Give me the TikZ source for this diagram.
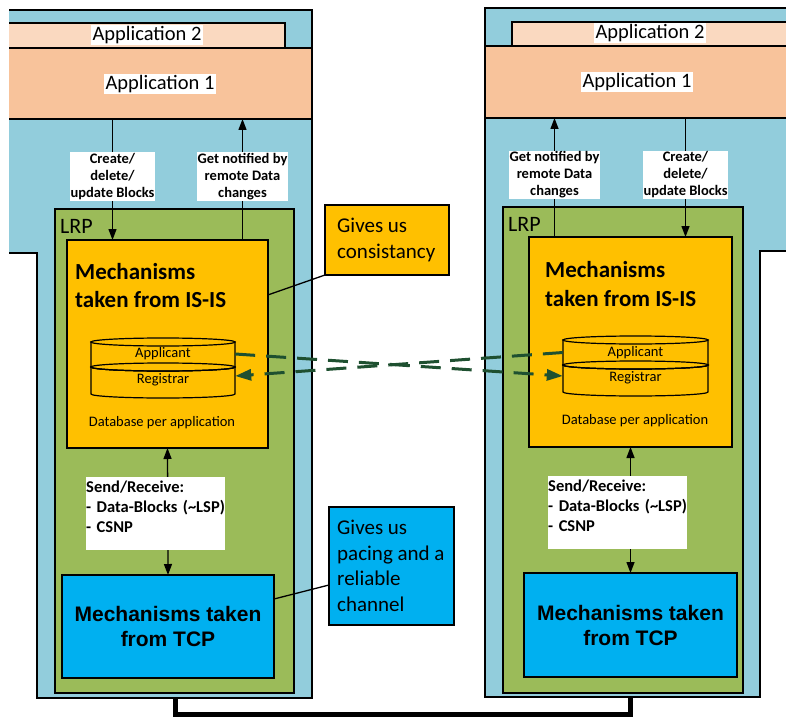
\documentclass[tikz,border=0pt]{standalone}
\usepackage{fontspec}
\setmainfont{Carlito}
\newfontfamily\arialf{Liberation Sans}
\usetikzlibrary{arrows.meta,calc}
\pgfdeclarelayer{front}
\pgfsetlayers{main,front}
\definecolor{bluebg}{RGB}{146,205,220}
\definecolor{lrpg}{RGB}{155,187,89}
\definecolor{isy}{RGB}{255,192,0}
\definecolor{tcpb}{RGB}{0,176,240}
\definecolor{appa}{RGB}{248,195,155}
\definecolor{appb}{RGB}{250,217,192}
\definecolor{dgreen}{RGB}{30,80,48}
\newcommand\mycyl[5]{%
  \filldraw[fill=isy,line width=1.2pt] (#1-#5,#3) -- (#1-#5,#4) arc[start angle=180,end angle=360,x radius=#5pt,y radius=4pt] -- (#1+#5,#3) -- cycle;
  \filldraw[fill=isy,line width=1.2pt] (#1,#3) ellipse[x radius=#5pt,y radius=4pt];
  \filldraw[fill=isy,line width=1.2pt] (#1-#5,#2) -- (#1-#5,#3) arc[start angle=180,end angle=360,x radius=#5pt,y radius=4pt] -- (#1+#5,#2) -- cycle;
  \filldraw[fill=isy,line width=1.2pt] (#1,#2) ellipse[x radius=#5pt,y radius=4pt];
  \draw[line width=1.2pt] (#1,#3) ellipse[x radius=#5pt,y radius=4pt];
}
\begin{document}
\begin{tikzpicture}[x=1pt,y=-1pt,
  box/.style={draw=black,line width=1.5pt,anchor=north west,inner sep=0pt,outer sep=0pt},
  outl/.style={line width=2.2pt,line join=miter},
  barline/.style={line width=1.5pt},
  app/.style={fill=white,inner sep=1.5pt,font=\fontsize{20.5}{24}\selectfont},
  lbl/.style={fill=white,inner sep=1pt,align=center,font=\fontsize{14.5}{17}\selectfont\bfseries},
  srl/.style={fill=white,inner sep=0pt,anchor=north west,text width=139pt,minimum height=73pt,align=left,font=\fontsize{16.5}{20}\selectfont\bfseries},
  lrptxt/.style={inner sep=0pt,anchor=north west,font=\fontsize{22}{26}\selectfont},
  title/.style={inner sep=0pt,anchor=west,align=left,font=\fontsize{23}{28.5}\selectfont\bfseries},
  tcptxt/.style={align=center,font=\arialf\bfseries\fontsize{21}{25}\selectfont},
  cyltxt/.style={inner sep=0pt,font=\fontsize{14.5}{17}\selectfont},
  dbtxt/.style={inner sep=0pt,font=\fontsize{14.5}{17}\selectfont},
  callout/.style={box},
  callouttxt/.style={inner sep=0pt,anchor=west,align=left,font=\fontsize{21}{25.5}\selectfont},
  arr/.style={line width=1.3pt,-{Triangle[length=11pt,width=8pt]}},
  darr/.style={line width=1.3pt,{Triangle[length=11pt,width=8pt]}-{Triangle[length=11pt,width=8pt]}},
  dgline/.style={draw=dgreen,line width=3pt,dash pattern=on 20pt off 11pt,-{Triangle[length=16pt,width=11pt]}},
  conn/.style={line width=1.3pt}
]
\useasboundingbox (0,0) rectangle (786,722);

% left host
\fill[bluebg] (9,10) -- (312,10) -- (312,698) -- (37,698) -- (37,253) -- (9,253) -- cycle;
\fill[appb] (9,23) rectangle (285,48);
\fill[appa] (9,48) rectangle (312,119);
\draw[barline] (9,23) -- (285,23) -- (285,48);
\draw[barline] (9,48) -- (312,48);
\draw[barline] (9,119) -- (312,119);
\draw[outl] (9,10) -- (312,10) -- (312,698) -- (37,698) -- (37,253) -- (9,253);

% right host
\fill[bluebg] (485,8) -- (787,8) -- (787,251) -- (760,251) -- (760,697) -- (485,697) -- cycle;
\fill[appb] (512,22) rectangle (787,46);
\fill[appa] (485,46) rectangle (787,118);
\draw[barline] (787,22) -- (512,22) -- (512,46);
\draw[barline] (485,46) -- (787,46);
\draw[barline] (485,118) -- (787,118);
\draw[outl] (787,8) -- (485,8) -- (485,697) -- (760,697) -- (760,251) -- (787,251);

\coordinate (lbarb) at (0,119);
\coordinate (rbarb) at (0,118);

\node[app] (la2) at (147,35) {Application 2};
\node[app] (la1) at (160,84) {Application 1};
\node[app] (ra2) at (650,33) {Application 2};
\node[app] (ra1) at (637,82) {Application 1};

% LRP
\node[box,fill=lrpg,minimum width=239pt,minimum height=484pt] (llrp) at (55,209) {};
\node[box,fill=lrpg,minimum width=240pt,minimum height=486pt] (rlrp) at (503,207) {};
\node[lrptxt] (llrpt) at (60,219) {LRP};
\node[lrptxt] (rlrpt) at (508,217) {LRP};

% IS-IS
\node[box,fill=isy,minimum width=201pt,minimum height=208pt] (lis) at (67,240) {};
\node[box,fill=isy,minimum width=203pt,minimum height=210pt] (ris) at (529,237) {};
\node[title] (lit) at (75,285.5) {Mechanisms\\taken from IS-IS};
\node[title] (rit) at (545,284) {Mechanisms\\taken from IS-IS};

\mycyl{163}{342}{367}{394}{72}
\mycyl{635.5}{340}{365}{392}{72.5}
\node[cyltxt,minimum width=144pt] (lapp) at (163,354) {Applicant};
\node[cyltxt,minimum width=144pt] (lreg) at (163,379.5) {Registrar};
\node[cyltxt,minimum width=145pt] (rapp) at (635.5,352.5) {Applicant};
\node[cyltxt,minimum width=145pt] (rreg) at (635.5,377.5) {Registrar};
\node[dbtxt] (ldb) at (162,423) {Database per application};
\node[dbtxt] (rdb) at (635,421) {Database per application};

% TCP
\node[box,fill=tcpb,minimum width=212pt,minimum height=103pt,tcptxt] (ltcp) at (62,575) {Mechanisms taken\\from TCP};
\node[box,fill=tcpb,minimum width=213pt,minimum height=104pt,tcptxt] (rtcp) at (524,573) {Mechanisms taken\\from TCP};

% callouts
\node[callout,fill=isy,minimum width=124pt,minimum height=70pt] (cons) at (325,205) {};
\node[callouttxt] (const) at ($(cons.west)+(12,0)$) {Gives us\\consistancy};
\node[callout,fill=tcpb,minimum width=125pt,minimum height=118pt] (pac) at (329,507) {};
\node[callouttxt] (pact) at ($(pac.west)+(8,0)$) {Gives us\\pacing and a\\reliable\\channel};
\draw[conn] ($(lis.north east)!0.264!(lis.south east)$) -- (cons.south west);
\draw[conn] ($(ltcp.north east)!0.233!(ltcp.south east)$) -- ($(pac.north west)!0.661!(pac.south west)$);

% labels on front layer
\begin{pgfonlayer}{front}
\node[lbl] (lcr) at (112.5,176.5) {Create/\\delete/\\update Blocks};
\node[lbl] (lgn) at (242.5,176.5) {Get notified by\\remote Data\\changes};
\node[lbl] (rgn) at (554.5,175) {Get notified by\\remote Data\\changes};
\node[lbl] (rcr) at (685.5,175) {Create/\\delete/\\update Blocks};
\node[srl] (lsr) at (86,477) {Send/Receive:\\- Data-Blocks (\textasciitilde LSP)\\- CSNP\\[-6pt]\mbox{}};
\node[srl] (rsr) at (548,476) {Send/Receive:\\- Data-Blocks (\textasciitilde LSP)\\- CSNP\\[-6pt]\mbox{}};
\end{pgfonlayer}

% arrows
\draw[arr] (lcr |- lbarb) -- (lcr |- lis.north);
\draw[arr] (lgn |- lis.north) -- (lgn |- lbarb);
\draw[arr] (rgn |- ris.north) -- (rgn |- rbarb);
\draw[arr] (rcr |- rbarb) -- (rcr |- ris.north);
\draw[darr] (lis.south) -- (ltcp.north);
\draw[darr] (ris.south) -- (rtcp.north);

% dashed exchange
\draw[dgline] (lapp.east) -- ([yshift=1.5pt]rreg.west);
\draw[dgline] (rapp.west) -- ([yshift=3.5pt]lreg.east);

% bottom link
\coordinate (lbot) at (175,698);
\coordinate (rbot) at (630,697);
\draw[line width=5pt] (lbot) -- ++(0,16) -| (rbot);
\end{tikzpicture}
\end{document}
